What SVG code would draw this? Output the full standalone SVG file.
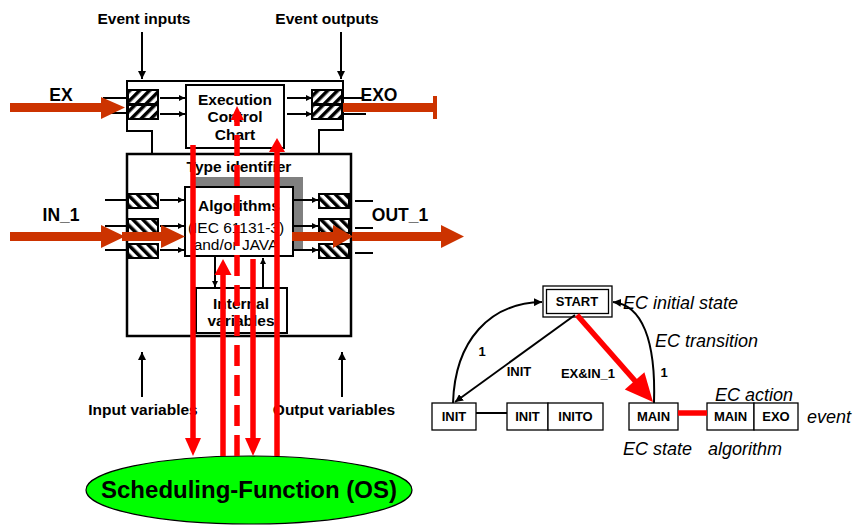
<svg xmlns="http://www.w3.org/2000/svg" width="856" height="525" viewBox="0 0 856 525">
<defs>
<pattern id="hatchF" patternUnits="userSpaceOnUse" width="7" height="7" patternTransform="rotate(45)">
<rect width="7" height="7" fill="#fff"/><rect width="3.5" height="7" fill="#000"/>
</pattern>
<pattern id="hatchB" patternUnits="userSpaceOnUse" width="7" height="7" patternTransform="rotate(-45)">
<rect width="7" height="7" fill="#fff"/><rect width="3.5" height="7" fill="#000"/>
</pattern>
<marker id="ah" viewBox="0 0 10 10" refX="10" refY="5" markerWidth="6" markerHeight="6" markerUnits="userSpaceOnUse" orient="auto">
<path d="M0,0 L10,5 L0,10 z" fill="#000"/>
</marker>
<marker id="ah2" viewBox="0 0 10 10" refX="10" refY="5" markerWidth="8" markerHeight="8" markerUnits="userSpaceOnUse" orient="auto">
<path d="M0,0 L10,5 L0,10 z" fill="#000"/>
</marker>
</defs>
<style>
.t{font-family:"Liberation Sans",Arial,sans-serif;fill:#000}
.b{font-weight:bold}
.i{font-style:italic}
.fb{fill:#fff;stroke:#000;stroke-width:2.5}
.bx{fill:#fff;stroke:#000;stroke-width:2}
.sb{fill:#fff;stroke:#000;stroke-width:1.3}
.hf{fill:url(#hatchF);stroke:#000;stroke-width:2}
.hb{fill:url(#hatchB);stroke:#000;stroke-width:2}
.ln{stroke:#000;stroke-width:2;fill:none}
.ar{stroke:#000;stroke-width:2;fill:none;marker-end:url(#ah)}
.ar2{stroke:#000;stroke-width:2;fill:none;marker-end:url(#ah2)}
.or{fill:#CC3300}
.rd{stroke:#FF0000;stroke-width:5.5;fill:none}
.rf{fill:#FF0000}
</style>

<g id="labels">
<text class="t b" x="144" y="24" font-size="15.5" text-anchor="middle">Event inputs</text>
<text class="t b" x="327" y="24" font-size="15.5" text-anchor="middle">Event outputs</text>
<text class="t b" x="61" y="101" font-size="17.5" text-anchor="middle">EX</text>
<text class="t b" x="379" y="101" font-size="17.5" text-anchor="middle">EXO</text>
<text class="t b" x="61" y="221" font-size="17.5" text-anchor="middle">IN_1</text>
<text class="t b" x="400" y="221" font-size="17.5" text-anchor="middle">OUT_1</text>
<text class="t b" x="143" y="415" font-size="15.5" text-anchor="middle">Input variables</text>
<text class="t b" x="334" y="415" font-size="15.5" text-anchor="middle">Output variables</text>
</g>

<g id="function-block">
<path d="M127,131 L127,81 L343,81 L343,130 L319,130 L319,154 L152,154 L152,131 Z" fill="#fff"/>
<rect class="fb" x="127" y="154" width="224" height="182"/>
<path class="ln" stroke-width="2.5" d="M152,154 L152,131 L127,131 L127,81 L343,81 L343,130 L319,130 L319,154"/>
<text class="t b" x="239" y="172" font-size="15.5" text-anchor="middle">Type identifier</text>
</g>

<g id="event-ports">
<line class="ln" x1="103" y1="98" x2="128" y2="98"/>
<line class="ln" x1="103" y1="113" x2="128" y2="113"/>
<rect class="hf" x="128" y="90" width="30" height="14"/>
<rect class="hf" x="128" y="105" width="30" height="14"/>
<rect class="hf" x="312" y="90" width="30" height="14"/>
<rect class="hf" x="312" y="105" width="30" height="14"/>
<line class="ln" x1="342" y1="98" x2="362" y2="98"/>
<line class="ln" x1="342" y1="114" x2="366" y2="114"/>
</g>

<g id="data-ports">
<line class="ln" x1="105" y1="200" x2="127" y2="200"/>
<line class="ln" x1="105" y1="226" x2="127" y2="226"/>
<line class="ln" x1="105" y1="250" x2="127" y2="250"/>
<rect class="hb" x="128" y="194" width="30" height="14"/>
<rect class="hb" x="128" y="219" width="30" height="14"/>
<rect class="hb" x="128" y="244" width="30" height="14"/>
<rect class="hb" x="319" y="194" width="30" height="14"/>
<rect class="hb" x="319" y="219" width="30" height="14"/>
<rect class="hb" x="319" y="244" width="30" height="14"/>
<line class="ln" x1="355" y1="201" x2="373" y2="201"/>
<line class="ln" x1="355" y1="228" x2="373" y2="228"/>
<line class="ln" x1="355" y1="253" x2="373" y2="253"/>
</g>

<g id="ecc">
<rect class="bx" x="186" y="85" width="98" height="63"/>
<text class="t b" x="235" y="105" font-size="15.5" text-anchor="middle">Execution</text>
<text class="t b" x="235" y="122" font-size="15.5" text-anchor="middle">Control</text>
<text class="t b" x="235" y="140" font-size="15.5" text-anchor="middle">Chart</text>
</g>

<g id="algorithms">
<rect x="195" y="177" width="108" height="72" fill="#808080"/>
<rect class="bx" x="185" y="187" width="108" height="69"/>
<text class="t b" x="239" y="211" font-size="15.5" text-anchor="middle">Algorithms</text>
<text class="t" x="236" y="233" font-size="15.5" text-anchor="middle">(IEC 61131-3)</text>
<text class="t" x="236" y="250" font-size="15.5" text-anchor="middle">and/or JAVA</text>
</g>

<g id="internal-variables">
<rect class="bx" x="196" y="288" width="91" height="45"/>
<text class="t b" x="241" y="309" font-size="15.5" text-anchor="middle">Internal</text>
<text class="t b" x="241" y="326" font-size="15.5" text-anchor="middle">variables</text>
</g>

<g id="scheduler">
<ellipse cx="249" cy="490" rx="163" ry="34" fill="#00FF00" stroke="#000" stroke-width="1.2"/>
<text class="t b" x="249" y="498" font-size="24" text-anchor="middle">Scheduling-Function (OS)</text>
</g>

<g id="ec-start">
<rect class="sb" x="543" y="286" width="69" height="31"/>
<rect class="sb" x="546.5" y="289.5" width="62" height="24"/>
<text class="t b" x="577" y="306" font-size="13" text-anchor="middle">START</text>
</g>
<g id="ec-init">
<rect class="sb" x="432" y="403" width="44" height="27"/>
<text class="t b" x="454" y="421" font-size="13" text-anchor="middle">INIT</text>
</g>
<g id="ec-init-action">
<rect class="sb" x="507" y="403" width="41" height="27"/>
<rect class="sb" x="548" y="403" width="55" height="27"/>
<text class="t b" x="527.5" y="421" font-size="13" text-anchor="middle">INIT</text>
<text class="t b" x="575.5" y="421" font-size="13" text-anchor="middle">INITO</text>
</g>
<g id="ec-main">
<rect class="sb" x="629" y="403" width="49" height="27"/>
<text class="t b" x="653.5" y="421" font-size="13" text-anchor="middle">MAIN</text>
</g>
<g id="ec-main-action">
<rect class="sb" x="707" y="403" width="47" height="27"/>
<rect class="sb" x="754" y="403" width="44" height="27"/>
<text class="t b" x="730.5" y="421" font-size="13" text-anchor="middle">MAIN</text>
<text class="t b" x="776" y="421" font-size="13" text-anchor="middle">EXO</text>
</g>
<g id="ec-labels">
<text class="t i" x="623" y="309" font-size="18">EC initial state</text>
<text class="t i" x="655" y="347" font-size="18">EC transition</text>
<text class="t i" x="715" y="401" font-size="18">EC action</text>
<text class="t i" x="807" y="423" font-size="18">event</text>
<text class="t i" x="623" y="455" font-size="18">EC state</text>
<text class="t i" x="708" y="455" font-size="18">algorithm</text>
<text class="t b" x="482" y="356" font-size="13" text-anchor="middle">1</text>
<text class="t b" x="519" y="376" font-size="13" text-anchor="middle">INIT</text>
<text class="t b" x="588" y="378" font-size="13" text-anchor="middle">EX&amp;IN_1</text>
<text class="t b" x="664" y="377" font-size="13" text-anchor="middle">1</text>
</g>

<g id="connectors">
<line class="ar2" x1="142" y1="32" x2="142" y2="79"/>
<line class="ar2" x1="341" y1="32" x2="341" y2="79"/>
<line class="ar" x1="160" y1="98" x2="185" y2="98"/>
<line class="ar" x1="160" y1="114" x2="185" y2="114"/>
<line class="ar" x1="287" y1="98" x2="312" y2="98"/>
<line class="ar" x1="287" y1="114" x2="312" y2="114"/>
<line class="ar" x1="160" y1="200" x2="184" y2="200"/>
<line class="ar" x1="160" y1="226" x2="184" y2="226"/>
<line class="ar" x1="160" y1="250" x2="184" y2="250"/>
<line class="ar" x1="293" y1="200" x2="318" y2="200"/>
<line class="ar" x1="293" y1="226" x2="318" y2="226"/>
<line class="ar" x1="293" y1="250" x2="318" y2="250"/>
<line class="ar" x1="215" y1="257" x2="215" y2="287"/>
<line class="ar" x1="263" y1="288" x2="263" y2="258"/>
<line class="ar2" x1="142" y1="397" x2="142" y2="352"/>
<line class="ar2" x1="342" y1="397" x2="342" y2="352"/>

<path class="or" d="M10,103 L101,103 L101,97 L125,107.5 L101,119 L101,112 L10,112 Z"/>
<path class="or" d="M343,103 L433,103 L433,96 L437,96 L437,119 L433,119 L433,112 L343,112 Z"/>
<path class="or" d="M10,232 L101,232 L101,225 L125,236.5 L101,248 L101,241 L10,241 Z"/>
<path class="or" d="M122,232 L161,232 L161,225 L185,236.5 L161,248 L161,241 L122,241 Z"/>
<path class="or" d="M292,232 L333,232 L333,225 L353,236.5 L333,248 L333,241 L292,241 Z"/>
<path class="or" d="M352,232 L441,232 L441,225 L464,236.5 L441,248 L441,241 L352,241 Z"/>

<line class="rd" x1="193" y1="145" x2="193" y2="440"/>
<polygon class="rf" points="185,438 201,438 193,456"/>
<line class="rd" x1="223" y1="456" x2="223" y2="273"/>
<polygon class="rf" points="214.5,275 231.5,275 223,259"/>
<line class="rd" x1="237" y1="456" x2="237" y2="120" stroke-dasharray="21 9"/>
<polygon class="rf" points="230.5,120 244,120 237,106"/>
<line class="rd" x1="253" y1="259" x2="253" y2="440"/>
<polygon class="rf" points="245,438 261,438 253,456"/>
<line class="rd" x1="277" y1="456" x2="277" y2="151"/>
<polygon class="rf" points="269,152 285,152 277,138"/>

<line class="ar2" x1="575" y1="315" x2="455" y2="402"/>
<path class="ar2" d="M453,403 C455,340 490,303 542,302"/>
<path class="ar2" d="M654,403 C656,340 642,305 613,302"/>
<line class="rd" stroke-width="6.5" x1="577" y1="315" x2="636" y2="382"/>
<polygon class="rf" points="624.8,389.5 644.4,372.3 653,402"/>
<line class="ln" x1="476" y1="413" x2="507" y2="413" stroke-width="1.3"/>
<line class="rd" x1="678" y1="413" x2="707" y2="413"/>
</g>
</svg>
